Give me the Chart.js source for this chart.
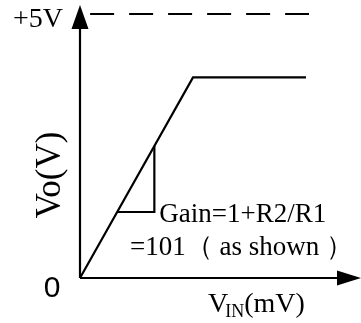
<!DOCTYPE html>
<html>
<head>
<meta charset="utf-8">
<style>
  html, body { margin: 0; padding: 0; background: #fff; }
  #wrap { width: 361px; height: 323px; }
</style>
<script src="https://cdn.jsdelivr.net/npm/chart.js@4/dist/chart.umd.min.js"></script>
</head>
<body>
<div id="wrap"><canvas id="chart" width="361" height="323"></canvas></div>
<script>
  // transfer curve: input (mV) -> output (V)
  const vin = [0, 38, 76];
  const vout = [0, 3.8, 3.8];

  // +5V rail (dashed)
  const railX = [3.4, 77];
  const railV = 5;

  // gain triangle
  const triX = [12.5, 25, 25];
  const triY = [1.25, 1.25, 2.5];

  const yTickLabels = ["0", "+5V"];
  const yTitle = "Vo(V)";
  const xTitle = ["V", "IN", "(mV)"];
  const noteLines = ["Gain=1+R2/R1", "=101\uFF08 as shown \uFF09"];

  const toPts = (xs, ys) => xs.map((x, i) => ({ x, y: ys[i] }));

  const SERIF = '"Liberation Serif", "Times New Roman", serif';

  const annotations = {
    id: "annotations",
    afterDraw(chart) {
      const { ctx, scales } = chart;
      const x = scales.x, y = scales.y;
      const ox = x.getPixelForValue(0);
      const oy = y.getPixelForValue(0);
      ctx.save();
      ctx.strokeStyle = "#000";
      ctx.fillStyle = "#000";
      ctx.lineWidth = 2.2;

      // axes with arrow heads
      ctx.beginPath();
      ctx.moveTo(ox, oy);
      ctx.lineTo(ox, 29);
      ctx.moveTo(ox, oy);
      ctx.lineTo(337, oy);
      ctx.stroke();

      ctx.beginPath();
      ctx.moveTo(ox, 5);
      ctx.lineTo(ox - 8.5, 29);
      ctx.lineTo(ox + 8.5, 29);
      ctx.closePath();
      ctx.fill();

      ctx.beginPath();
      ctx.moveTo(361, oy);
      ctx.lineTo(337, oy - 7.5);
      ctx.lineTo(337, oy + 7.5);
      ctx.closePath();
      ctx.fill();

      // tick labels
      ctx.textBaseline = "alphabetic";
      ctx.font = "30px \"Liberation Sans\", Arial, sans-serif";
      ctx.textAlign = "center";
      ctx.fillText(yTickLabels[0], ox - 28, oy + 19);

      ctx.font = "28px " + SERIF;
      ctx.textAlign = "right";
      ctx.fillText(yTickLabels[1], ox - 17, y.getPixelForValue(railV) + 13);

      // y title (rotated)
      ctx.save();
      ctx.translate(ox - 29, y.getPixelForValue(1.95));
      ctx.rotate(-Math.PI / 2);
      ctx.font = "35px " + SERIF;
      ctx.textAlign = "center";
      ctx.textBaseline = "middle";
      ctx.fillText(yTitle, 0, 0);
      ctx.restore();

      // x title with subscript
      let tx = 208;
      const tb = oy + 34;
      ctx.textAlign = "left";
      ctx.font = "28px " + SERIF;
      ctx.fillText(xTitle[0], tx, tb);
      tx += ctx.measureText(xTitle[0]).width - 3;
      ctx.font = "18px " + SERIF;
      ctx.fillText(xTitle[1], tx, tb + 5);
      tx += ctx.measureText(xTitle[1]).width;
      ctx.font = "28px " + SERIF;
      ctx.fillText(xTitle[2], tx, tb);

      // gain note
      ctx.font = "27px " + SERIF;
      ctx.fillText(noteLines[0], x.getPixelForValue(triX[2]) + 5, y.getPixelForValue(triY[0]) + 10);
      ctx.fillText(noteLines[1], 130, 255);

      ctx.restore();
    },
  };

  new Chart(document.getElementById("chart").getContext("2d"), {
    type: "scatter",
    data: {
      datasets: [
        {
          data: toPts(vin, vout),
          showLine: true,
          borderColor: "#000",
          borderWidth: 2.2,
          pointRadius: 0,
        },
        {
          data: toPts(railX, railX.map(() => railV)),
          showLine: true,
          borderColor: "#000",
          borderWidth: 2.2,
          borderDash: [24, 15],
          pointRadius: 0,
        },
        {
          data: toPts(triX, triY),
          showLine: true,
          borderColor: "#000",
          borderWidth: 2.2,
          pointRadius: 0,
        },
      ],
    },
    options: {
      responsive: false,
      animation: false,
      devicePixelRatio: 1,
      clip: false,
      layout: { padding: { left: 80, top: 14, right: 52, bottom: 45 } },
      plugins: { legend: { display: false }, tooltip: { enabled: false } },
      scales: {
        x: { type: "linear", min: 0, max: 77, display: false },
        y: { type: "linear", min: 0, max: 5, display: false },
      },
    },
    plugins: [annotations],
  });
</script>
</body>
</html>
